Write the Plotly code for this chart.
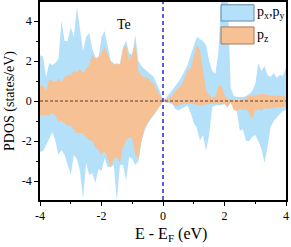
import numpy as np
import plotly.graph_objects as go

energy = [round(-4 + 0.1 * i, 1) for i in range(81)]

pxpy_up = [2.3, 2.2, 1.2, 1.9, 1.8, 1.9, 2.1, 4.0, 3.0, 3.0,
           3.7, 3.2, 4.7, 3.5, 2.5, 3.2, 3.4, 2.6, 2.2, 2.1,
           3.2, 3.5, 2.8, 2.0, 1.9, 1.7, 1.9, 2.7, 3.0, 2.4,
           2.3, 3.3, 2.0, 1.75, 1.6, 1.45, 1.3, 1.2, 0.85, 0.5,
           0.05, 0.15, 0.35, 0.55, 0.7, 0.95, 1.2, 1.5, 1.8, 2.3,
           2.7, 3.2, 3.1, 3.0, 2.8, 2.0, 1.5, 1.35, 2.4, 5.5,
           5.5, 5.5, 0.7, 0.25, 0.2, 0.2, 0.2, 0.25, 0.35, 0.5,
           0.85, 1.9, 1.5, 1.75, 1.3, 1.2, 1.4, 1.15, 1.3, 1.25,
           1.7]
pz_up = [0.77, 0.75, 0.5, 1.1, 1.0, 0.95, 1.1, 0.95, 1.2, 1.3,
         1.3, 1.5, 1.45, 1.6, 1.4, 1.6, 1.8, 2.3, 2.1, 2.2,
         2.4, 2.7, 2.3, 2.0, 1.8, 1.9, 1.8, 2.6, 2.8, 2.0,
         2.4, 2.9, 1.5, 1.25, 1.2, 1.15, 1.0, 0.85, 0.55, 0.3,
         0.03, 0.1, 0.15, 0.3, 0.5, 0.65, 0.8, 1.1, 1.55, 1.6,
         2.2, 2.8, 2.55, 1.6, 0.55, 0.3, 0.2, 0.2, 0.7, 0.8,
         0.3, 0.1, 0.08, 0.05, 0.05, 0.05, 0.08, 0.15, 0.25, 0.27,
         0.3, 0.35, 0.35, 0.35, 0.3, 0.28, 0.28, 0.28, 0.27, 0.25,
         0.2]
pxpy_dn = [-2.55, -2.5, -2.2, -1.85, -1.55, -2.0, -2.7, -2.45, -2.7, -3.2,
           -3.7, -2.7, -2.9, -3.5, -4.9, -3.1, -3.7, -3.6, -4.1, -3.4,
           -3.5, -2.85, -3.3, -3.3, -3.2, -5.0, -3.2, -3.2, -4.0, -2.8,
           -2.9, -3.2, -3.0, -2.0, -1.5, -1.15, -0.9, -0.7, -0.45, -0.25,
           -0.03, -0.08, -0.1, -0.15, -0.4, -0.47, -0.38, -0.3, -0.22, -0.6,
           -1.1, -1.35, -1.97, -1.7, -2.5, -1.7, -0.3, -0.22, -0.22, -0.2,
           -0.15, -0.35, -0.05, -0.4, -0.5, -1.5, -1.4, -2.0, -2.0, -1.8,
           -1.7, -2.0, -2.4, -3.1, -2.3, -1.3, -1.0, -0.8, -0.65, -0.5,
           -0.45]
pz_dn = [-0.72, -0.72, -0.72, -0.7, -0.63, -0.72, -1.05, -0.97, -1.1, -1.25,
         -1.22, -1.45, -1.6, -1.6, -1.6, -1.8, -1.95, -2.0, -2.3, -2.45,
         -2.7, -2.5, -2.9, -3.3, -2.9, -2.8, -3.1, -2.3, -2.0, -1.8,
         -1.9, -2.7, -2.9, -2.0, -1.35, -1.1, -0.85, -0.7, -0.45, -0.25,
         -0.02, -0.05, -0.05, -0.1, -0.28, -0.22, -0.15, -0.13, -0.13, -0.13,
         -0.15, -0.2, -0.22, -0.22, -0.18, -0.15, -0.13, -0.13, -0.13, -0.13,
         -0.15, -0.3, -0.05, -0.45, -0.5, -0.4, -0.45, -0.4, -0.6, -0.9,
         -0.45, -0.4, -0.5, -0.35, -0.4, -0.35, -0.35, -0.3, -0.3, -0.3,
         -0.25]

x_ticks = [-4, -2, 0, 2, 4]
y_ticks = [-4, -2, 0, 2, 4]
labels = ["p<sub>x</sub>,p<sub>y</sub>", "p<sub>z</sub>"]
element = "Te"
x_title = "E - E<sub>F</sub> (eV)"
y_title = "PDOS (states/eV)"

BLUE = "rgb(180,224,250)"
ORANGE = "rgb(247,193,150)"
FONT = "Liberation Serif"

fig = go.Figure()
for ys, col in [(pxpy_up, BLUE), (pxpy_dn, BLUE), (pz_up, ORANGE), (pz_dn, ORANGE)]:
    fig.add_trace(go.Scatter(x=energy, y=ys, mode="lines", line=dict(width=0, color=col),
                             fill="tozeroy", fillcolor=col, showlegend=False, hoverinfo="skip"))

fig.add_hline(y=0, line=dict(color="rgb(140,105,80)", width=1.3, dash="3px,2px"))
fig.add_vline(x=0, line=dict(color="rgb(40,40,220)", width=1.5, dash="4px,3px"))

# legend drawn manually
boxes = [(0.736, 0.870, 0.904, 0.986, BLUE, "rgb(100,140,175)"),
         (0.736, 0.870, 0.788, 0.874, ORANGE, "rgb(170,120,85)")]
for (x0, x1, y0, y1, fc, lc), lab in zip(boxes, labels):
    fig.add_shape(type="rect", xref="paper", yref="paper", x0=x0, x1=x1, y0=y0, y1=y1,
                  fillcolor=fc, line=dict(color=lc, width=1))
    fig.add_annotation(xref="paper", yref="paper", x=x1 + 0.006, y=(y0 + y1) / 2,
                       text=lab, showarrow=False, xanchor="left", yanchor="middle",
                       font=dict(family=FONT, size=14, color="black"))

fig.add_annotation(x=-1.27, y=3.85, text=element, showarrow=False,
                   font=dict(family=FONT, size=14, color="black"))

fig.add_annotation(xref="paper", yref="paper", x=0.532, y=-0.175, text=x_title,
                   showarrow=False, xanchor="center", yanchor="middle",
                   font=dict(family=FONT, size=16, color="black"))

axis_common = dict(showline=True, linecolor="black", linewidth=1.5, mirror=True,
                   ticks="outside", ticklen=4, tickwidth=1.3, tickcolor="black",
                   showgrid=False, zeroline=False, automargin=False,
                   tickfont=dict(family=FONT, size=12, color="black"),
                   minor=dict(ticks="outside", ticklen=2.5, tickwidth=1.2, tickcolor="black", dtick=1))
fig.update_xaxes(range=[-4, 4], tickvals=x_ticks, ticktext=[str(v) for v in x_ticks],
                 **axis_common)
fig.update_yaxes(range=[-4.95, 4.95], tickvals=y_ticks, ticktext=[str(v) for v in y_ticks],
                 title=dict(text=y_title, font=dict(family=FONT, size=14, color="black"), standoff=4),
                 **axis_common)
fig.update_layout(width=291, height=247, margin=dict(l=40, r=5, t=2, b=47),
                  plot_bgcolor="white", paper_bgcolor="white", showlegend=False)
fig.write_html("out.html", config={"displayModeBar": False},
               post_script="document.body.style.margin='0';document.body.style.overflow='hidden';")
